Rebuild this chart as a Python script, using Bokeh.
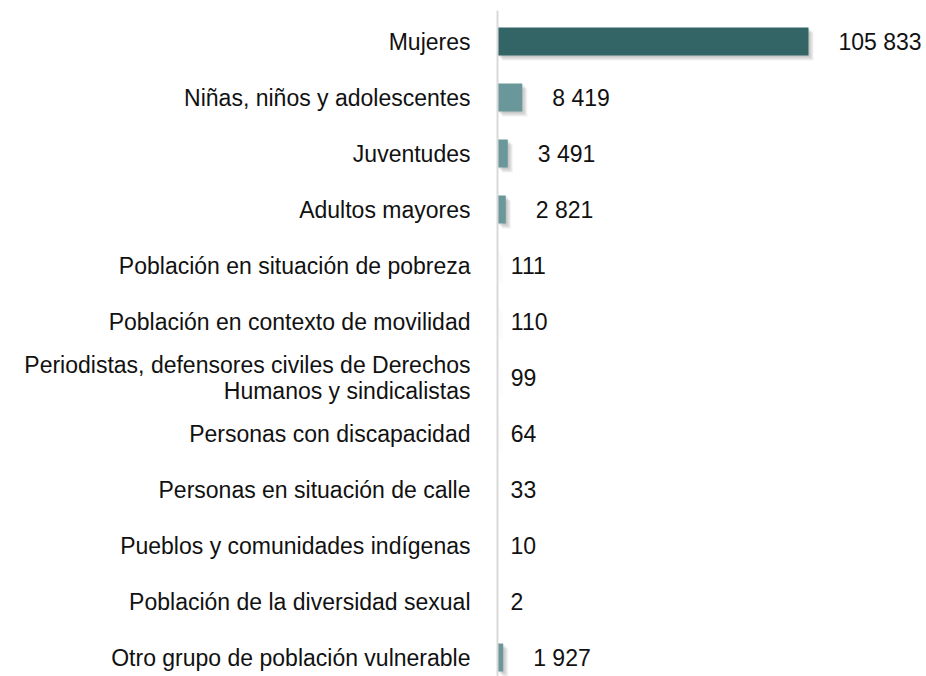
from bokeh.plotting import figure
from bokeh.models import Range1d, FixedTicker, ColumnDataSource
from bokeh.embed import file_html
from bokeh.resources import INLINE
from bokeh.core.properties import value

categories = [
    "Mujeres",
    "Niñas, niños y adolescentes",
    "Juventudes",
    "Adultos mayores",
    "Población en situación de pobreza",
    "Población en contexto de movilidad",
    "Periodistas, defensores civiles de Derechos\nHumanos y sindicalistas",
    "Personas con discapacidad",
    "Personas en situación de calle",
    "Pueblos y comunidades indígenas",
    "Población de la diversidad sexual",
    "Otro grupo de población vulnerable",
]
values = [105833, 8419, 3491, 2821, 111, 110, 99, 64, 33, 10, 2, 1927]

DARK = "#336466"
LIGHT = "#6A9799"

W, H = 926, 676
left_border = 497
top_border = 10
frame_w = W - left_border
px_per_unit = (808 - 497) / max(values)
x_end = frame_w / px_per_unit
row_px = 56
frame_h = H - top_border
y_top = -0.554
y_bottom = y_top + frame_h / row_px

ys = list(range(len(categories)))
colors = [DARK if i == 0 else LIGHT for i in ys]
labels = [f"{v:,}".replace(",", " ") for v in values]
offsets = [30 if v * px_per_unit > 1 else 13 for v in values]

src = ColumnDataSource(dict(y=ys, v=values, c=colors, lab=labels, off=offsets))

p = figure(width=W, height=H, output_backend="svg", toolbar_location=None,
           x_range=Range1d(0, x_end), y_range=Range1d(y_bottom, y_top),
           min_border_left=left_border, min_border_right=0,
           min_border_top=top_border, min_border_bottom=0)

# soft shadow
for k in (1, 2, 3, 4, 5):
    dx = k / px_per_unit
    dy = k / row_px
    shadow = ColumnDataSource(dict(y=[y + dy for y in ys], r=[v + dx for v in values],
                                   l=[dx for _ in values]))
    p.hbar(y="y", left="l", right="r", height=0.5, source=shadow,
           fill_color="#555555", fill_alpha=0.08, line_color=None)

p.hbar(y="y", left=0, right="v", height=0.5, source=src,
       fill_color="c", line_color=None)

p.text(x="v", y="y", text="lab", x_offset="off", source=src,
       text_align="left", text_baseline="middle",
       text_font=value("Liberation Sans"), text_font_size="23px",
       text_color="#111111")

p.xaxis.visible = False
p.xgrid.visible = False
p.ygrid.visible = False
p.outline_line_color = None

ya = p.yaxis[0]
ya.ticker = FixedTicker(ticks=ys)
ya.major_label_overrides = {i: c for i, c in zip(ys, categories)}
ya.major_tick_line_color = None
ya.minor_tick_line_color = None
ya.axis_line_color = "#D9D9D9"
ya.axis_line_width = 2
ya.major_label_standoff = 21
ya.major_label_text_font = "Liberation Sans"
ya.major_label_text_font_size = "23px"
ya.major_label_text_color = "#111111"
ya.major_label_text_line_height = 1.0

open("out.html", "w").write(file_html(p, INLINE))
